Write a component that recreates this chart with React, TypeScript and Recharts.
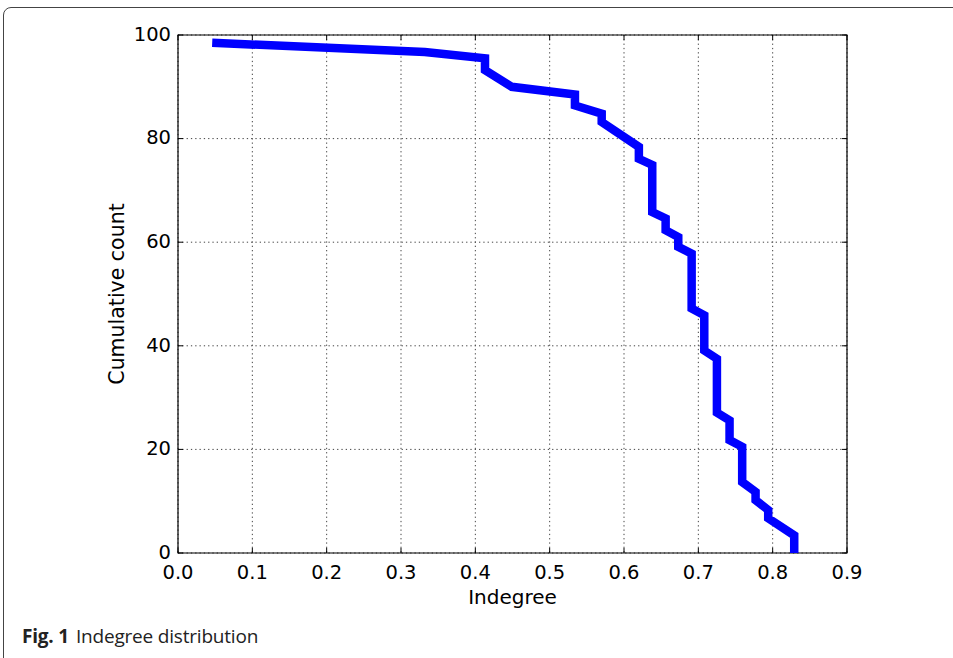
import React from 'react';
import { LineChart, Line, XAxis, YAxis, CartesianGrid, ReferenceArea, Label } from 'recharts';

// Indegree values (x) and cumulative count values (y), in drawing order
const indegree = [
  0.046, 0.332, 0.413, 0.413, 0.449, 0.534, 0.534, 0.570, 0.570, 0.620, 0.620,
  0.638, 0.638, 0.656, 0.656, 0.673, 0.673, 0.691, 0.691, 0.708, 0.708, 0.725,
  0.725, 0.742, 0.742, 0.759, 0.759, 0.777, 0.777, 0.794, 0.794, 0.829, 0.829,
];
const cumulativeCount = [
  98.5, 96.7, 95.5, 93.2, 90.0, 88.5, 86.4, 84.8, 83.2, 78.4, 76.1,
  74.9, 65.8, 64.6, 62.3, 61.0, 59.1, 57.8, 47.2, 45.9, 39.1, 37.5,
  27.1, 25.6, 21.8, 20.5, 13.7, 11.8, 10.2, 8.3, 6.7, 3.4, 0,
];
const xTicks = [0, 0.1, 0.2, 0.3, 0.4, 0.5, 0.6, 0.7, 0.8, 0.9];
const yTicks = [0, 20, 40, 60, 80, 100];

const data = indegree.map((x, i) => ({ x, y: cumulativeCount[i] }));

const W = 953;
const H = 658;
const PLOT_LEFT = 178;
const PLOT_RIGHT = 847;
const PLOT_TOP = 35;
const PLOT_BOTTOM = 553;
const X_AXIS_H = 30;
const Y_AXIS_W = 60;
const TICK_LEN = 5;
const FONT = '"DejaVu Sans", sans-serif';

const XTick = (props: any) => {
  const { x, y, payload } = props;
  return (
    <g>
      <line x1={x} x2={x} y1={PLOT_BOTTOM} y2={PLOT_BOTTOM - TICK_LEN} stroke="#000" strokeWidth={1} />
      <line x1={x} x2={x} y1={PLOT_TOP} y2={PLOT_TOP + TICK_LEN} stroke="#000" strokeWidth={1} />
      <text x={x} y={y + 18} textAnchor="middle" fill="#000" fontSize={19.5} fontFamily={FONT}>
        {Number(payload.value).toFixed(1)}
      </text>
    </g>
  );
};

const YTick = (props: any) => {
  const { x, y, payload } = props;
  return (
    <g>
      <line x1={PLOT_LEFT} x2={PLOT_LEFT + TICK_LEN} y1={y} y2={y} stroke="#000" strokeWidth={1} />
      <line x1={PLOT_RIGHT - TICK_LEN} x2={PLOT_RIGHT} y1={y} y2={y} stroke="#000" strokeWidth={1} />
      <text x={x + 1} y={y} dy="0.3em" textAnchor="end" fill="#000" fontSize={19.5} fontFamily={FONT}>
        {payload.value}
      </text>
    </g>
  );
};

const YAxisLabel = (props: any) => {
  const { viewBox } = props;
  const cx = viewBox.x - 1;
  const cy = viewBox.y + viewBox.height / 2;
  return (
    <text
      x={cx}
      y={cy}
      transform={`rotate(-90 ${cx} ${cy})`}
      textAnchor="middle"
      dominantBaseline="central"
      fill="#000"
      fontSize={20.5}
      fontFamily={FONT}
    >
      Cumulative count
    </text>
  );
};

const XAxisLabel = (props: any) => {
  const { viewBox } = props;
  const cx = viewBox.x + viewBox.width / 2;
  return (
    <text x={cx} y={604} textAnchor="middle" fill="#000" fontSize={20} fontFamily={FONT}>
      Indegree
    </text>
  );
};

export default function App() {
  return (
    <div
      style={{
        position: 'absolute',
        left: 0,
        top: 0,
        width: W,
        height: H,
        overflow: 'hidden',
        background: '#fff',
      }}
    >
      <div
        style={{
          position: 'absolute',
          left: 3,
          top: 7,
          width: 1000,
          height: 700,
          border: '1px solid #444',
          borderRadius: 8,
          boxSizing: 'border-box',
        }}
      />
      <div style={{ position: 'absolute', left: 0, top: 0 }}>
        <LineChart
          width={W}
          height={H}
          data={data}
          margin={{
            top: PLOT_TOP,
            right: W - PLOT_RIGHT,
            bottom: H - PLOT_BOTTOM - X_AXIS_H,
            left: PLOT_LEFT - Y_AXIS_W,
          }}
        >
          <CartesianGrid
            stroke="#444"
            strokeDasharray="1.3 3"
            strokeWidth={1}
            horizontalValues={yTicks}
            verticalValues={xTicks}
          />
          <XAxis
            dataKey="x"
            type="number"
            domain={[0, 0.9]}
            ticks={xTicks}
            interval={0}
            height={X_AXIS_H}
            axisLine={false}
            tickLine={false}
            tick={<XTick />}
            allowDataOverflow
          >
            <Label content={<XAxisLabel />} />
          </XAxis>
          <YAxis
            type="number"
            domain={[0, 100]}
            ticks={yTicks}
            interval={0}
            width={Y_AXIS_W}
            axisLine={false}
            tickLine={false}
            tick={<YTick />}
            allowDataOverflow
          >
            <Label content={<YAxisLabel />} />
          </YAxis>
          <Line
            dataKey="y"
            type="linear"
            stroke="#0000ff"
            strokeWidth={8.5}
            strokeLinejoin="miter"
            strokeLinecap="butt"
            dot={false}
            activeDot={false}
            isAnimationActive={false}
          />
          <ReferenceArea
            x1={0}
            x2={0.9}
            y1={0}
            y2={100}
            fill="none"
            fillOpacity={0}
            stroke="#000"
            strokeWidth={1.2}
            ifOverflow="visible"
          />
        </LineChart>
      </div>
      <div
        style={{
          position: 'absolute',
          left: 22,
          top: 624,
          fontFamily: '"Open Sans", sans-serif',
          fontSize: 19,
          lineHeight: '24px',
          color: '#222',
          whiteSpace: 'nowrap',
          letterSpacing: '-0.2px',
        }}
      >
        <span style={{ fontWeight: 700 }}>Fig. 1</span>
        <span style={{ marginLeft: 7 }}>Indegree distribution</span>
      </div>
    </div>
  );
}
